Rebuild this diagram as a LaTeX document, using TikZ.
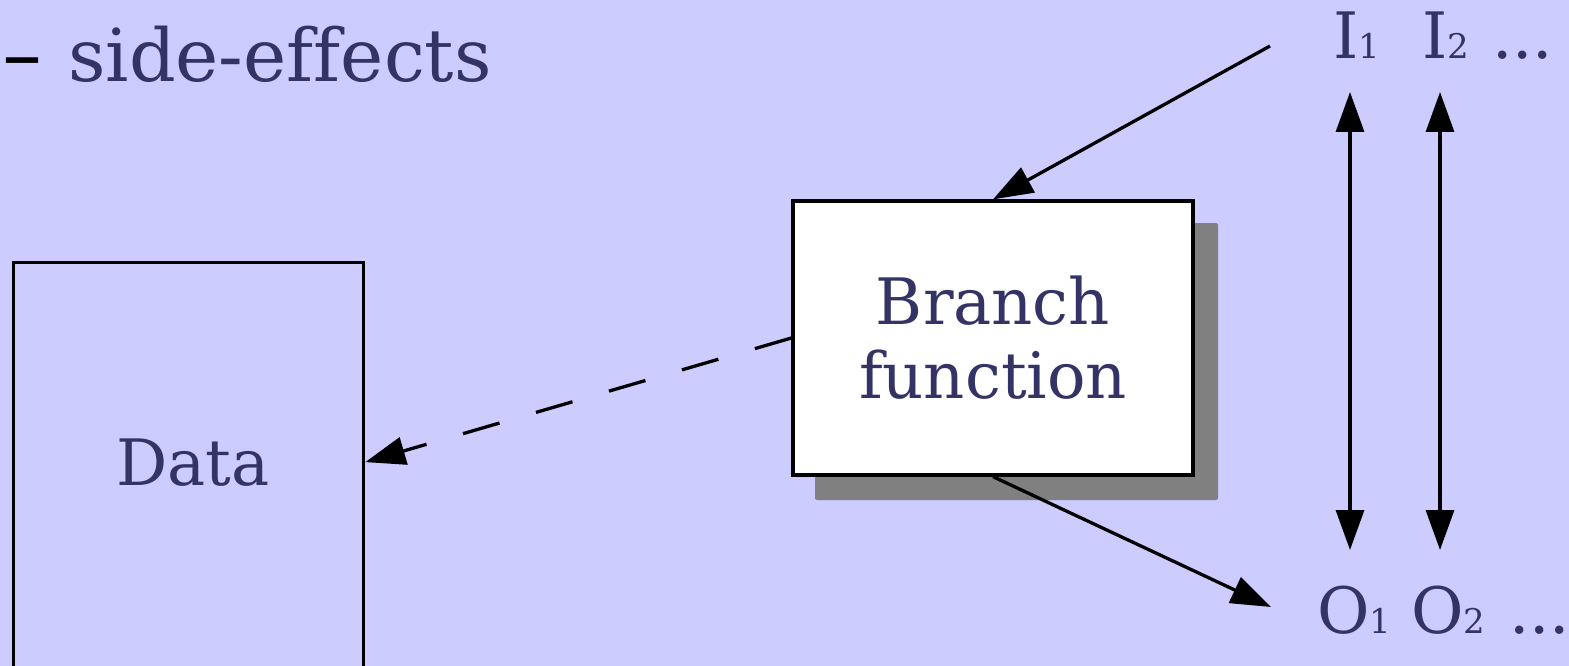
\documentclass[tikz,border=0pt]{standalone}
\usepackage{fontspec}
\setmainfont[Ligatures=NoCommon]{DejaVu Serif}
\newfontfamily\dashfont{DejaVu Sans}
\usetikzlibrary{arrows.meta}
\definecolor{bg}{HTML}{CCCCFF}
\definecolor{txt}{HTML}{333366}
\definecolor{shadowgray}{HTML}{808080}
\newcommand\sbs[1]{{\fontsize{34}{34}\selectfont #1}}
\begin{document}
\begin{tikzpicture}[x=1pt,y=-1pt,
  lbl/.style={inner sep=0pt, text=txt, font=\fontsize{64}{74}\selectfont},
  conn/.style={line width=3.3pt, -{Triangle[length=40pt,width=28pt]}},
  dconn/.style={line width=3.3pt, {Triangle[length=40pt,width=28pt]}-{Triangle[length=40pt,width=28pt]}},
  boxed/.style={draw, line width=3.3pt, inner sep=0pt}]
\fill[bg] (0,0) rectangle (1569,666);
\useasboundingbox (0,0) rectangle (1569,666);
\clip (0,0) rectangle (1569,666);

% title
\node[inner sep=0pt, text=black, font=\dashfont\fontsize{80}{80}\selectfont, anchor=base west] (bullet) at (2,83) {–};
\node[lbl, font=\fontsize{73}{80}\selectfont, anchor=base west] (se) at (68,82) {side-effects};

% data box
\node[boxed, minimum width=350pt, minimum height=460pt, anchor=north west] (data) at (12,261) {};
\node[lbl, anchor=base] (datatext) at (193,485) {Data};

% branch function with shadow
\fill[shadowgray, rounded corners=2pt] (815,223) rectangle (1218,500);
\node[boxed, fill=white, minimum width=400pt, minimum height=274pt, align=center, lbl] (branch) at (993,338) {Branch\\function};

% inputs / outputs
\node[lbl, anchor=base west] (i1) at (1333,59) {I\sbs{1}};
\node[lbl, anchor=base west] (i2) at (1422,59) {I\sbs{2}};
\node[lbl, anchor=base west] (idots) at (1492,59) {...};
\node[lbl, anchor=base west] (o1) at (1317,633) {O\sbs{1}};
\node[lbl, anchor=base west] (o2) at (1411,633) {O\sbs{2}};
\node[lbl, anchor=base west] (odots) at (1509,633) {...};

\coordinate (inA) at (1270,46);
\coordinate (outA) at (1271,607);
\coordinate (t1) at (1350,92);
\coordinate (b1) at (1350,550);
\coordinate (t2) at (1440,92);
\coordinate (b2) at (1440,550);

\draw[conn] (inA) -- (branch.north);
\draw[conn] (branch.south) -- (outA);
\draw[conn, dash pattern=on 38pt off 38pt] (branch.west) -- (data.east |- datatext.center);
\draw[dconn] (t1) -- (b1);
\draw[dconn] (t2) -- (b2);
\end{tikzpicture}
\end{document}
